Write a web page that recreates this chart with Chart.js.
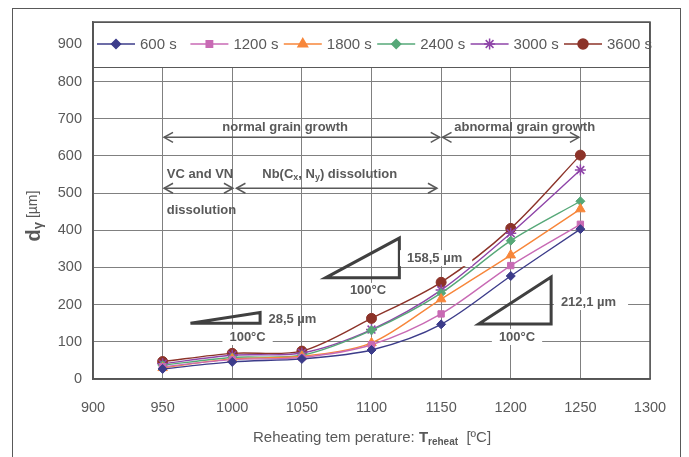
<!DOCTYPE html>
<html><head><meta charset="utf-8">
<script src="https://cdn.jsdelivr.net/npm/chart.js@4"></script>
<style>html,body{margin:0;padding:0;background:#fff}#wrap{width:689px;height:457px;position:relative}</style>
</head><body><div id="wrap"><canvas id="c" width="689" height="457"></canvas></div>
<script>
const temps = [950, 1000, 1050, 1100, 1150, 1200, 1250];
const seriesLabels = ['600 s', '1200 s', '1800 s', '2400 s', '3000 s', '3600 s'];
const s600  = [27, 46, 54, 78, 147, 277, 403];
const s1200 = [33, 52, 58, 92, 175, 305, 416];
const s1800 = [30, 54, 61, 97, 215, 333, 457];
const s2400 = [37, 58, 64, 131, 231, 372, 478];
const s3000 = [41, 64, 70, 133, 239, 392, 562];
const s3600 = [47, 69, 75, 163, 260, 405, 602];
const xTicks = [900, 950, 1000, 1050, 1100, 1150, 1200, 1250, 1300];
const yTicks = [0, 100, 200, 300, 400, 500, 600, 700, 800, 900];

const colors = ['#3c3c8a', '#c86ab4', '#f7863a', '#56a878', '#8e44a8', '#8c3329'];
const styles = ['rectRot', 'rect', 'triangle', 'rectRot', 'star', 'circle'];
const radii = [4.5, 4.5, 5.5, 4.5, 5.5, 5];
const allSeries = [s600, s1200, s1800, s2400, s3000, s3600];

const FONT = '"Liberation Sans", Arial, sans-serif';
const TXT = '#595959';

const datasets = allSeries.map((s, i) => ({
  label: seriesLabels[i],
  data: temps.map((t, j) => ({x: t, y: s[j]})),
  borderColor: colors[i],
  backgroundColor: colors[i],
  pointBackgroundColor: colors[i],
  pointBorderColor: colors[i],
  pointStyle: styles[i],
  pointRadius: radii[i],
  pointBorderWidth: styles[i] === 'star' ? 1.5 : 1,
  borderWidth: 1.4,
  tension: 0.3,
  fill: false
}));

// annotations in data coordinates
const arrows = [
  {x1: 951, x2: 1149, y: 650},
  {x1: 1151, x2: 1249, y: 650},
  {x1: 951, x2: 1000.5, y: 513},
  {x1: 1003, x2: 1147, y: 513}
];
const texts = [
  {t: 'normal grain growth', x: 1038, y: 676, align: 'center'},
  {t: 'abnormal grain growth', x: 1210, y: 676, align: 'center'},
  {t: 'VC and VN', x: 953, y: 551, align: 'left'},
  {t: 'Nb(C', x: 1070, y: 551, align: 'nb'},
  {t: 'dissolution', x: 953, y: 454, align: 'left'}
];
const triangles = [
  [[970, 150], [1020, 150], [1020, 179]],
  [[1067, 272], [1120, 272], [1120, 379]],
  [[1177, 148], [1229, 148], [1229, 274]]
];
const boxLabels = [
  {t: '28,5 µm', x: 1026, y: 159, align: 'left', bg: false},
  {t: '100°C', x: 1011, y: 113, align: 'center', bg: true},
  {t: '158,5 µm', x: 1125.5, y: 325, align: 'left', bg: true, padR: 10},
  {t: '100°C', x: 1097.5, y: 237, align: 'center', bg: true},
  {t: '212,1 µm', x: 1236, y: 207, align: 'left', bg: true, padR: 12},
  {t: '100°C', x: 1204.5, y: 113, align: 'center', bg: true}
];

function arrowHead(ctx, x, y, dir) {
  ctx.beginPath();
  ctx.moveTo(x - dir * 9, y - 5);
  ctx.lineTo(x, y);
  ctx.lineTo(x - dir * 9, y + 5);
  ctx.stroke();
}

const annot = {
  id: 'annot',
  afterDatasetsDraw(chart) {
    const ctx = chart.ctx, xs = chart.scales.x, ys = chart.scales.y;
    ctx.save();
    ctx.strokeStyle = '#595959';
    ctx.fillStyle = TXT;
    ctx.lineWidth = 1.5;
    arrows.forEach(a => {
      const x1 = xs.getPixelForValue(a.x1), x2 = xs.getPixelForValue(a.x2), y = ys.getPixelForValue(a.y);
      ctx.beginPath(); ctx.moveTo(x1, y); ctx.lineTo(x2, y); ctx.stroke();
      arrowHead(ctx, x1, y, -1); arrowHead(ctx, x2, y, 1);
    });
    ctx.font = 'bold 13px ' + FONT;
    ctx.textBaseline = 'middle';
    texts.forEach(o => {
      const x = xs.getPixelForValue(o.x), y = ys.getPixelForValue(o.y);
      if (o.align === 'nb') {
        const parts = [['Nb(C', 13, 0], ['x', 9, 3], [', N', 13, 0], ['y', 9, 3], [') dissolution', 13, 0]];
        let w = 0;
        parts.forEach(p => { ctx.font = 'bold ' + p[1] + 'px ' + FONT; w += ctx.measureText(p[0]).width; });
        let cx = x - w / 2;
        ctx.textAlign = 'left';
        parts.forEach(p => { ctx.font = 'bold ' + p[1] + 'px ' + FONT; ctx.fillText(p[0], cx, y + p[2]); cx += ctx.measureText(p[0]).width; });
        ctx.font = 'bold 13px ' + FONT;
      } else {
        ctx.textAlign = o.align;
        ctx.fillText(o.t, x, y);
      }
    });
    ctx.lineWidth = 3;
    ctx.strokeStyle = '#404040';
    ctx.lineJoin = 'miter';
    triangles.forEach(tr => {
      ctx.beginPath();
      tr.forEach((p, k) => {
        const px = xs.getPixelForValue(p[0]), py = ys.getPixelForValue(p[1]);
        if (k === 0) ctx.moveTo(px, py); else ctx.lineTo(px, py);
      });
      ctx.closePath(); ctx.stroke();
    });
    boxLabels.forEach(o => {
      const x = xs.getPixelForValue(o.x), y = ys.getPixelForValue(o.y);
      ctx.font = 'bold 13px ' + FONT;
      const w = ctx.measureText(o.t).width;
      const left = o.align === 'center' ? x - w / 2 : x;
      if (o.bg) {
        ctx.fillStyle = '#ffffff';
        ctx.fillRect(left - 7, y - 8, w + 7 + (o.padR || 7), 16);
      }
      ctx.fillStyle = TXT;
      ctx.textAlign = 'left';
      ctx.fillText(o.t, left, y);
    });
    ctx.restore();
  },
  afterDraw(chart) {
    const ctx = chart.ctx, a = chart.chartArea;
    ctx.save();
    ctx.fillStyle = '#fff';
    ctx.fillRect(a.left, a.top, a.right - a.left, 45);
    ctx.strokeStyle = '#595959';
    ctx.lineWidth = 1;
    ctx.strokeRect(a.left + 0.5, a.top + 0.5, a.right - a.left - 1, 45);
    ctx.lineWidth = 1.5;
    ctx.strokeStyle = '#555';
    ctx.strokeRect(a.left, a.top, a.right - a.left, a.bottom - a.top);
    const ly = a.top + 22;
    chart.data.datasets.forEach((d, i) => {
      const x0 = a.left + 4 + i * 93.4;
      ctx.strokeStyle = d.borderColor; ctx.lineWidth = 1.5;
      ctx.beginPath(); ctx.moveTo(x0, ly); ctx.lineTo(x0 + 38, ly); ctx.stroke();
      ctx.fillStyle = d.backgroundColor;
      Chart.helpers.drawPoint(ctx, {pointStyle: d.pointStyle, radius: d.pointRadius, borderWidth: d.pointBorderWidth, rotation: 0}, x0 + 19, ly);
      ctx.fillStyle = TXT; ctx.font = '15px ' + FONT;
      ctx.textAlign = 'left'; ctx.textBaseline = 'middle';
      ctx.fillText(d.label, x0 + 43, ly + 1);
    });
    ctx.strokeStyle = '#595959'; ctx.lineWidth = 1;
    ctx.strokeRect(12.5, 8.5, 668, 470);
    ctx.translate(34, 216);
    ctx.rotate(-Math.PI / 2);
    const yparts = [['d', 'bold 20px', 0], ['γ', 'bold 13px', 4], [' [µm]', '14px', -1]];
    let w = 0;
    yparts.forEach(p => { ctx.font = p[1] + ' ' + FONT; w += ctx.measureText(p[0]).width; });
    let cx = -w / 2;
    ctx.fillStyle = TXT; ctx.textAlign = 'left'; ctx.textBaseline = 'middle';
    yparts.forEach(p => { ctx.font = p[1] + ' ' + FONT; ctx.fillText(p[0], cx, p[2]); cx += ctx.measureText(p[0]).width; });
    ctx.setTransform(1, 0, 0, 1, 0, 0);
    const xparts = [['Reheating tem perature: ', '15px', 0], ['T', 'bold 15px', 0], ['reheat', 'bold 10px', 4], ['  [ºC]', '15px', 0]];
    w = 0;
    xparts.forEach(p => { ctx.font = p[1] + ' ' + FONT; w += ctx.measureText(p[0]).width; });
    cx = 372 - w / 2;
    xparts.forEach(p => { ctx.font = p[1] + ' ' + FONT; ctx.fillText(p[0], cx, 438 + p[2]); cx += ctx.measureText(p[0]).width; });
    ctx.restore();
  }
};

new Chart(document.getElementById('c'), {
  type: 'line',
  data: {datasets},
  options: {
    responsive: false,
    animation: false,
    events: [],
    layout: {padding: {left: 0, top: 22, right: 39, bottom: 0}},
    plugins: {legend: {display: false}, tooltip: {enabled: false}, title: {display: false}},
    scales: {
      x: {
        type: 'linear', min: 900, max: 1300,
        afterBuildTicks: s => { s.ticks = xTicks.map(v => ({value: v})); },
        afterFit: s => { s.height = 78; },
        grid: {color: '#808080', lineWidth: 1, drawTicks: false},
        border: {display: true, color: '#555', width: 1.5},
        ticks: {color: TXT, font: {family: FONT, size: 14.5}, padding: 20, maxRotation: 0, callback: v => String(v)}
      },
      y: {
        type: 'linear', min: 0, max: 960,
        afterBuildTicks: s => { s.ticks = yTicks.map(v => ({value: v})); },
        afterFit: s => { s.width = 93; },
        grid: {color: '#808080', lineWidth: 1, drawTicks: false},
        border: {display: true, color: '#555', width: 1.5},
        ticks: {color: TXT, font: {family: FONT, size: 14.5}, padding: 11, callback: v => String(v)}
      }
    }
  },
  plugins: [annot]
});
</script></body></html>
